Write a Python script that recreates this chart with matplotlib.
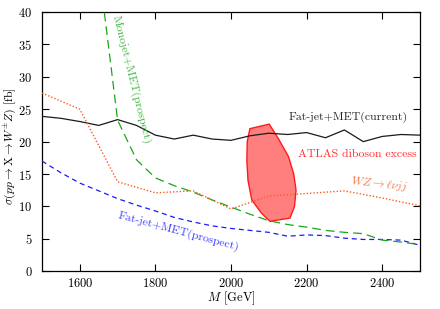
import numpy as np
import matplotlib
matplotlib.use("Agg")
import matplotlib.pyplot as plt

plt.rcParams['font.family'] = ['cmr10', 'DejaVu Serif']
plt.rcParams['mathtext.fontset'] = 'cm'
plt.rcParams['axes.formatter.use_mathtext'] = True

# data points
m_current = [1500, 1550, 1600, 1650, 1700, 1750, 1800, 1850, 1900, 1950, 2000,
             2050, 2100, 2150, 2200, 2250, 2300, 2350, 2400, 2450, 2500]
fatjet_current = [23.9, 23.6, 23.1, 22.5, 23.4, 22.5, 21.0, 20.4, 21.0, 20.4, 20.2,
                  20.9, 21.3, 21.1, 21.4, 20.6, 21.8, 20.0, 20.8, 21.1, 21.0]

m_prospect = m_current
fatjet_prospect = [17.0, 15.2, 13.6, 12.4, 11.2, 10.2, 9.3, 8.3, 7.6, 7.0, 6.6,
                   6.3, 6.0, 5.4, 5.6, 5.5, 5.1, 4.9, 4.9, 4.8, 4.0]

m_monojet = [1650, 1700, 1750, 1800, 1850, 1900, 1950, 2000, 2050, 2100,
             2150, 2200, 2250, 2300, 2350, 2400, 2450, 2500]
monojet = [47.0, 23.3, 17.2, 14.4, 13.2, 12.2, 11.0, 9.9, 8.8, 7.8,
           7.2, 6.8, 6.3, 6.0, 5.8, 4.8, 4.5, 4.1]

m_wz = [1500, 1600, 1700, 1800, 1900, 2000, 2100, 2200, 2300, 2400, 2500]
wz = [27.5, 25.0, 13.8, 12.1, 12.4, 9.6, 11.6, 12.0, 12.4, 11.3, 10.1]

# ATLAS excess region outline
excess_m = [2050, 2101, 2125, 2152, 2166, 2172, 2168, 2156, 2103, 2080, 2055, 2045, 2042, 2043]
excess_s = [22.0, 22.7, 20.5, 17.7, 15.0, 12.5, 10.0, 8.2, 7.7, 9.0, 11.0, 14.0, 17.0, 20.0]

fig = plt.figure(figsize=(4.4, 3.09), dpi=100)
ax = fig.add_axes([0.0955, 0.1223, 0.859, 0.8387])

ax.fill(excess_m, excess_s, facecolor=(1, 0, 0, 0.5), edgecolor='#ff1a1a', lw=1.0, zorder=2)
ax.plot(m_current, fatjet_current, color='#1a1a1a', lw=0.9, zorder=3)
ax.plot(m_prospect, fatjet_prospect, color='#1a1aff', lw=0.9, dashes=(4, 3), zorder=3)
ax.plot(m_monojet, monojet, color='#19a619', lw=0.9, dashes=(7, 4), zorder=3)
ax.plot(m_wz, wz, color='#ff5a1e', lw=1.0, dashes=(1, 1.4), zorder=3)

fs = 9
ax.text(2309, 23.8, 'Fat-jet+MET(current)', color='#262626', fontsize=8.5, ha='center', va='center')
ax.text(2333, 18.0, 'ATLAS diboson excess', color='#ff3030', fontsize=8.5, ha='center', va='center')
ax.text(2392, 13.4, r'$WZ\to\ell\nu jj$', color='#f07848', fontsize=8.5, ha='center', va='center',
        rotation=-6)
ax.text(1735, 29.5, 'Monojet+MET(prospect)', color='#40b840', fontsize=8.5, ha='center', va='center',
        rotation=-76)
ax.text(1862, 6.1, 'Fat-jet+MET(prospect)', color='#4040ff', fontsize=8.5, ha='center', va='center',
        rotation=-15)

ax.set_xlim(1500, 2500)
ax.set_ylim(0, 40)
ax.set_xticks([1600, 1800, 2000, 2200, 2400])
ax.set_yticks([0, 5, 10, 15, 20, 25, 30, 35, 40])
ax.tick_params(direction='in', top=True, right=True, labelsize=fs, length=5, width=0.8)
ax.tick_params(axis='x', pad=4)
ax.tick_params(axis='y', pad=7)
for s in ax.spines.values():
    s.set_linewidth(0.9)
ax.set_xlabel(r'$M$ [GeV]', fontsize=fs)
ax.set_ylabel(r'$\sigma(pp\to\mathrm{X}\to W^{\pm}Z)$ [fb]', fontsize=8.5)
ax.xaxis.set_label_coords(0.5, -0.072)
ax.yaxis.set_label_coords(-0.064, 0.481)

fig.savefig('out.png', dpi=100)
